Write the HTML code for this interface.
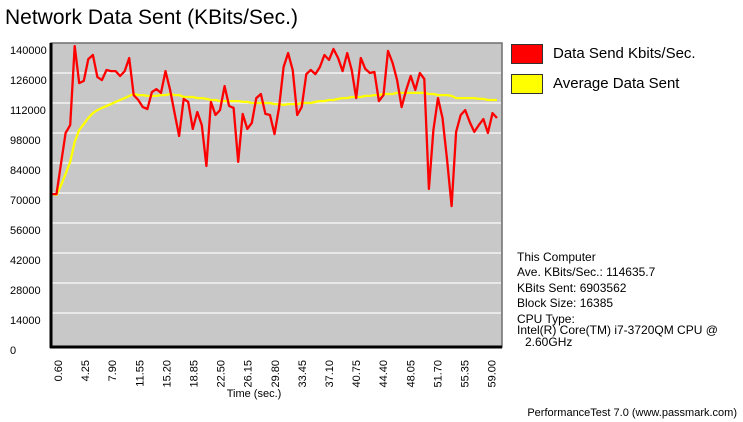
<!DOCTYPE html>
<html><head><meta charset="utf-8"><style>
body{margin:0;background:#fff;width:743px;height:422px;overflow:hidden;font-family:"Liberation Sans",Arial,sans-serif}
svg{display:block}
</style></head><body>
<svg id="c" width="743" height="422" font-family="Liberation Sans, Arial, sans-serif">
<text x="5" y="24" font-size="21" fill="#000">Network Data Sent (KBits/Sec.)</text>
<rect x="51" y="43" width="451" height="304" fill="#c8c8c8" stroke="#6e6e6e" stroke-width="1.5"/>
<g id="grid"></g>
<g id="ylab"></g>
<g id="xlab"></g>
<g id="series"></g>
<line x1="51" y1="43" x2="51" y2="348" stroke="#000" stroke-width="3"/>
<line x1="50" y1="347" x2="502" y2="347" stroke="#000" stroke-width="3"/>
<text x="254" y="397" font-size="11" text-anchor="middle">Time (sec.)</text>
<g>
<rect x="511.5" y="44.5" width="31" height="19" fill="#ff0000" stroke="#333"/>
<text x="553" y="58" font-size="15">Data Send Kbits/Sec.</text>
<rect x="511.5" y="74.5" width="31" height="19" fill="#ffff00" stroke="#333"/>
<text x="553" y="88" font-size="15">Average Data Sent</text>
</g>
<g font-size="12">
<text x="517" y="261">This Computer</text>
<text x="517" y="276">Ave. KBits/Sec.: 114635.7</text>
<text x="517" y="292">KBits Sent: 6903562</text>
<text x="517" y="307">Block Size: 16385</text>
<text x="517" y="323">CPU Type:</text>
<text x="517" y="334">Intel(R) Core(TM) i7-3720QM CPU @</text>
<text x="525" y="346">2.60GHz</text>
</g>
<text x="737" y="416" font-size="11" text-anchor="end">PerformanceTest 7.0 (www.passmark.com)</text>
</svg>
<script>
const yTicks=[0,14000,28000,42000,56000,70000,84000,98000,112000,126000,140000];
const xTickLabels=["0.60","4.25","7.90","11.55","15.20","18.85","22.50","26.15","29.80","33.45","37.10","40.75","44.40","48.05","51.70","55.35","59.00"];
const dataSent=[69500,69500,84000,98000,101700,138600,121300,122300,132500,134400,124100,122700,127400,126900,126900,124600,126900,133000,115700,113400,110100,109200,117100,118500,116700,126900,118100,107300,96600,113900,112500,99900,107800,101700,82600,112500,106400,108700,119900,110600,109700,84500,106900,99900,102700,114300,116200,106900,106400,97500,109700,128800,135300,127400,106400,110100,125500,127400,125500,128800,134400,132100,137200,133000,126900,135300,127400,114300,133000,127900,126000,126500,112900,115700,136300,130700,122700,110100,118100,124600,118100,126000,123200,71900,99400,114300,105000,85400,63900,98500,106400,108700,103100,98500,101700,104500,98000,107300,105000];
const avgSent=[69500,69100,73700,78900,84500,93800,99400,102200,105000,107300,108700,109700,110600,111500,112500,113400,114300,115300,116200,115700,115700,115300,115300,115300,115700,115700,116200,115700,115700,114800,114800,114800,114300,114300,113900,113400,113400,112900,112900,112900,112900,112900,112500,112500,112000,112000,112000,112000,112000,111500,111500,111100,111500,111500,111500,112000,112000,112000,112500,112900,112900,113400,113400,113900,114300,114300,114800,114800,114800,115300,115300,115700,115700,116200,116200,116200,116700,116700,116700,116700,116700,116700,116700,116200,116200,115700,115700,115700,115300,114300,114300,114300,114300,114300,113900,113900,113400,113400,113400];
const NS='http://www.w3.org/2000/svg';
const yMax=140000, yTop=43, yZero=343;
function yS(v){return yZero-(v/yMax)*(yZero-yTop);}
function xS(i,n){return 52+i*(445/(n-1));}
function xT(k){return 58+k*27.1;}
function mk(t,a){const e=document.createElementNS(NS,t);for(const k in a)e.setAttribute(k,a[k]);return e;}
const grid=document.getElementById('grid'),ylab=document.getElementById('ylab'),xlab=document.getElementById('xlab'),ser=document.getElementById('series');
yTicks.forEach(v=>{
  if(v>0&&v<yMax){const l=mk('line',{x1:52,x2:501,y1:yS(v),y2:yS(v),stroke:'#f2f2f2','stroke-width':1.5});
  
  
  grid.appendChild(l);}
  const t=mk('text',{x:10,y:yS(v)+11,'font-size':11});
  
  
  t.textContent=v;ylab.appendChild(t);
});
xTickLabels.forEach((s,k)=>{
  const x=xT(k)+4;
  const t=mk('text',{x:x,y:360,'font-size':11,'text-anchor':'end',transform:'rotate(-90 '+x+' 360)'});
  
  
  t.textContent=s;xlab.appendChild(t);
});
function line(arr,color,name){
  const p=arr.map((v,i)=>xS(i,arr.length).toFixed(1)+','+yS(v).toFixed(1)).join(' ');
  const pl=mk('polyline',{points:p,fill:'none',stroke:color,'stroke-width':2.3,'stroke-linejoin':'round'});
  
  
  ser.appendChild(pl);
}
line(avgSent,'#ffff00','average-data-sent-line');
line(dataSent,'#ff0000','data-send-line');
</script>
</body></html>
